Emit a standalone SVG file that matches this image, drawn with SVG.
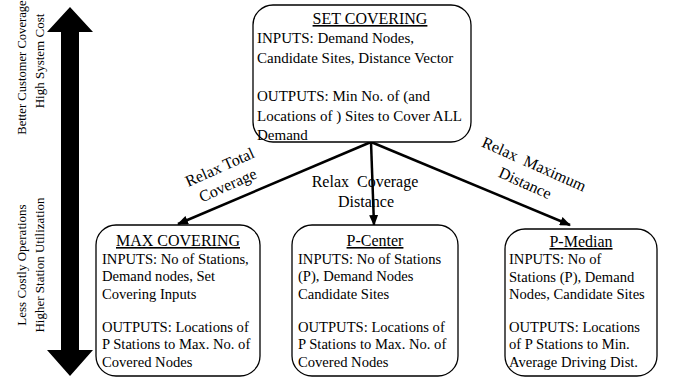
<svg xmlns="http://www.w3.org/2000/svg" width="673" height="381" viewBox="0 0 673 381">
<style>
text{font-family:"Liberation Serif","Times New Roman",serif;fill:#000;white-space:pre}
.box{fill:#fff;stroke:#000;stroke-width:1.3}
.t{font-size:16px;text-anchor:middle;text-decoration:underline}
.b{font-size:15px}
.s{font-size:14.6px}
.e{font-size:16px;text-anchor:middle}
.side{font-size:13px;text-anchor:middle}
.c{stroke:#000;stroke-width:2.5;fill:none;marker-end:url(#ah)}
</style>
<defs>
<marker id="ah" markerUnits="userSpaceOnUse" markerWidth="11" markerHeight="9" refX="10" refY="4.5" orient="auto">
<path d="M0,0 L11,4.5 L0,9 z" fill="#000"/>
</marker>
</defs>
<rect width="673" height="381" fill="#fff"/>
<g id="side-arrow">
<path d="M70,7 L93,32 L79,32 L79,350 L93,350 L70,376 L47,350 L61,350 L61,32 L47,32 z" fill="#000"/>
<text class="side" style="font-size:12.6px" transform="translate(26,67.5) rotate(-90)">Better Customer Coverage</text>
<text class="side" transform="translate(44,61) rotate(-90)">High System Cost</text>
<text class="side" transform="translate(26,265) rotate(-90)">Less Costly Operations</text>
<text class="side" transform="translate(44,265) rotate(-90)">Higher Station Utilization</text>
</g>
<g id="connectors">
<line class="c" x1="371" y1="142" x2="178" y2="224"/>
<line class="c" x1="371" y1="142" x2="374" y2="225"/>
<line class="c" x1="371" y1="142" x2="570" y2="225"/>
<text class="e" transform="translate(222,172) rotate(-24)">Relax Total</text>
<text class="e" transform="translate(230,190) rotate(-24)">Coverage</text>
<text class="e" x="365" y="187">Relax  Coverage</text>
<text class="e" x="366" y="207">Distance</text>
<text class="e" transform="translate(532,169) rotate(24)">Relax  Maximum</text>
<text class="e" transform="translate(523,188) rotate(24)">Distance</text>
</g>
<g id="set-covering">
<rect class="box" x="253" y="5" width="218" height="137" rx="20"/>
<text class="t" x="370" y="24">SET COVERING</text>
<text class="b" x="257" y="43">INPUTS: Demand Nodes,</text>
<text class="b" x="257" y="62.5">Candidate Sites, Distance Vector</text>
<text class="b" x="257" y="101">OUTPUTS: Min No. of (and</text>
<text class="b" x="257" y="120.5">Locations of ) Sites to Cover ALL</text>
<text class="b" x="257" y="140">Demand</text>
</g>
<g id="max-covering">
<rect class="box" x="96" y="225" width="164" height="151" rx="20"/>
<text class="t" x="178" y="246">MAX COVERING</text>
<text class="s" x="102" y="264">INPUTS: No of Stations,</text>
<text class="s" x="102" y="281">Demand nodes, Set</text>
<text class="s" x="102" y="299">Covering Inputs</text>
<text class="s" x="102" y="332">OUTPUTS: Locations of</text>
<text class="s" x="102" y="349">P Stations to Max. No. of</text>
<text class="s" x="102" y="367">Covered Nodes</text>
</g>
<g id="p-center">
<rect class="box" x="292" y="225" width="166" height="151" rx="20"/>
<text class="t" x="375" y="246">P-Center</text>
<text class="s" x="298" y="264">INPUTS: No of Stations</text>
<text class="s" x="298" y="281">(P), Demand Nodes</text>
<text class="s" x="298" y="299">Candidate Sites</text>
<text class="s" x="298" y="332">OUTPUTS: Locations of</text>
<text class="s" x="298" y="349">P Stations to Max. No. of</text>
<text class="s" x="298" y="367">Covered Nodes</text>
</g>
<g id="p-median">
<rect class="box" x="505" y="229" width="152" height="147" rx="20"/>
<text class="t" x="581" y="247">P-Median</text>
<text class="s" x="509" y="264">INPUTS: No of</text>
<text class="s" x="509" y="282">Stations (P), Demand</text>
<text class="s" x="509" y="299">Nodes, Candidate Sites</text>
<text class="s" x="509" y="332">OUTPUTS: Locations</text>
<text class="s" x="509" y="349">of P Stations to Min.</text>
<text class="s" x="509" y="367">Average Driving Dist.</text>
</g>
</svg>
